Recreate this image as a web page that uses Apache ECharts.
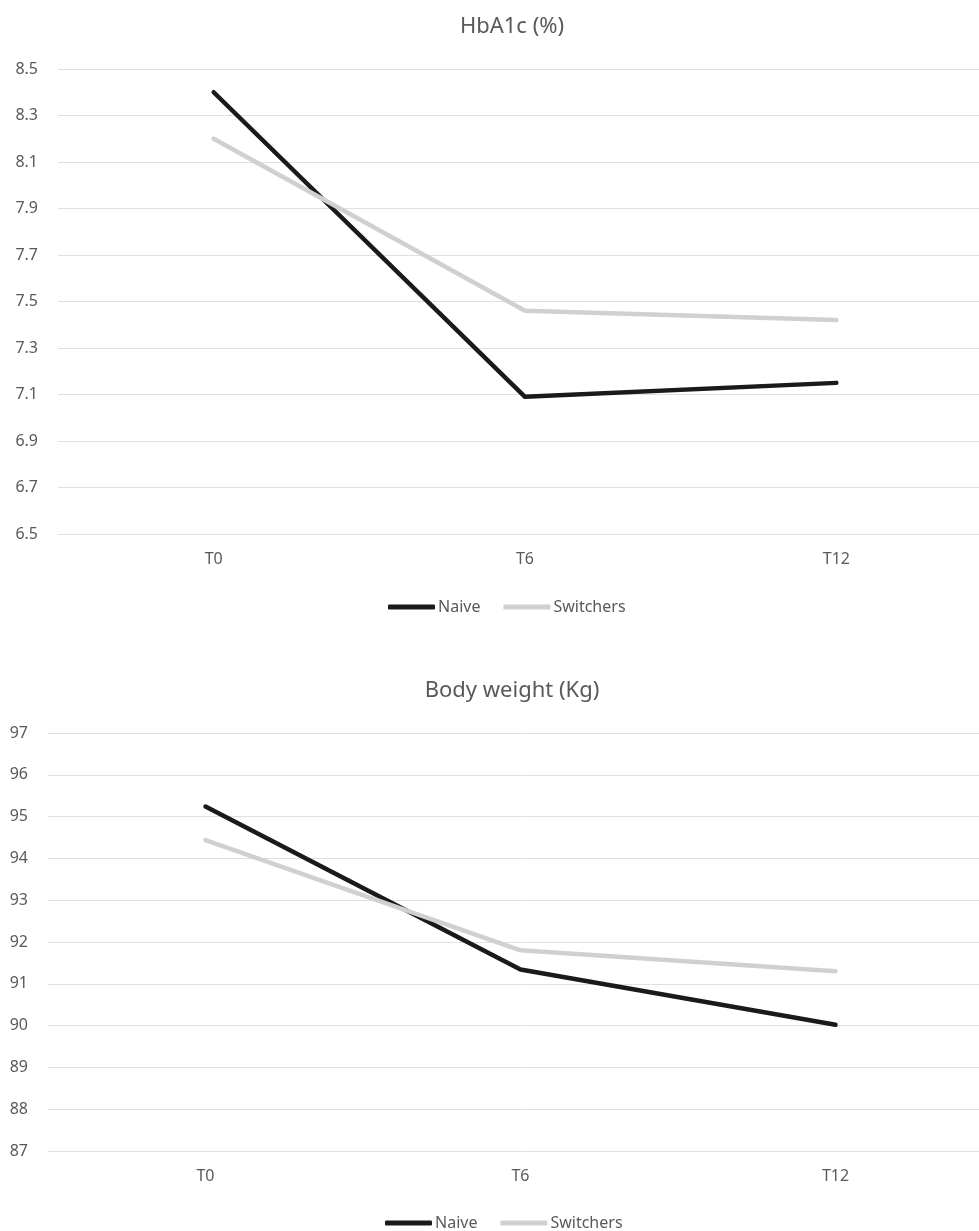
<!DOCTYPE html>
<html>
<head>
<meta charset="utf-8">
<script src="https://cdn.jsdelivr.net/npm/echarts@6/dist/echarts.min.js"></script>
<style>
  html, body { margin: 0; padding: 0; background: #ffffff; overflow: hidden; width: 979px; height: 1231px; }
  #chart { width: 1000px; height: 1231px; }
</style>
</head>
<body>
<div id="chart"></div>
<script>
const categories = ['T0', 'T6', 'T12'];
const seriesNames = ['Naive', 'Switchers'];
const hba1cNaive = [8.40, 7.09, 7.15];
const hba1cSwitchers = [8.20, 7.46, 7.42];
const weightNaive = [95.24, 91.34, 90.02];
const weightSwitchers = [94.44, 91.80, 91.30];
const titles = ['HbA1c (%)', 'Body weight (Kg)'];

const FONT = '"Noto Sans", "Open Sans", sans-serif';
const TEXT = '#595959';
const GRID = '#e0e0e0';
const BLACK = '#1a1a1a';
const GREY = '#d0d0d0';

const chart = echarts.init(document.getElementById('chart'), null, { renderer: 'canvas' });

function xAxis(gridIndex) {
  return {
    type: 'category', gridIndex: gridIndex, data: categories, boundaryGap: true,
    axisLine: { show: false }, axisTick: { show: false },
    axisLabel: { color: TEXT, fontFamily: FONT, fontSize: 16, margin: 17 },
    splitLine: { show: false }
  };
}
function yAxis(gridIndex, min, max, interval, digits) {
  return {
    type: 'value', gridIndex: gridIndex, min: min, max: max, interval: interval,
    axisLine: { show: false }, axisTick: { show: false },
    axisLabel: { color: TEXT, fontFamily: FONT, fontSize: 16, margin: 20,
      formatter: v => Number(v).toFixed(digits) },
    splitLine: { show: true, lineStyle: { color: GRID, width: 1 } }
  };
}
function lineSeries(name, data, color, idx) {
  return {
    name: name, type: 'line', data: data, xAxisIndex: idx, yAxisIndex: idx,
    symbol: 'none', smooth: false,
    lineStyle: { color: color, width: 4.5, cap: 'round', join: 'round' },
    itemStyle: { color: color },
    emphasis: { disabled: true }, animation: false
  };
}
function legend(left, top) {
  return {
    left: left, top: top, padding: 0, data: seriesNames, icon: 'roundRect',
    itemWidth: 47, itemHeight: 5, itemGap: 23,
    textStyle: { color: TEXT, fontFamily: FONT, fontSize: 16, padding: [0, 0, 0, -2] },
    selectedMode: false
  };
}

chart.setOption({
  backgroundColor: '#ffffff',
  animation: false,
  title: [
    { text: titles[0], left: 507, top: 11, textAlign: 'center',
      textStyle: { color: TEXT, fontFamily: FONT, fontSize: 22, fontWeight: 'normal' } },
    { text: titles[1], left: 507, top: 675, textAlign: 'center',
      textStyle: { color: TEXT, fontFamily: FONT, fontSize: 22, fontWeight: 'normal' } }
  ],
  legend: [ legend(388, 599), legend(385, 1215) ],
  grid: [
    { left: 58, top: 69, width: 934, height: 465 },
    { left: 48, top: 733, width: 945, height: 418 }
  ],
  xAxis: [ xAxis(0), xAxis(1) ],
  yAxis: [ yAxis(0, 6.5, 8.5, 0.2, 1), yAxis(1, 87, 97, 1, 0) ],
  series: [
    lineSeries('Naive', hba1cNaive, BLACK, 0),
    lineSeries('Switchers', hba1cSwitchers, GREY, 0),
    lineSeries('Naive', weightNaive, BLACK, 1),
    lineSeries('Switchers', weightSwitchers, GREY, 1)
  ]
});
</script>
</body>
</html>
